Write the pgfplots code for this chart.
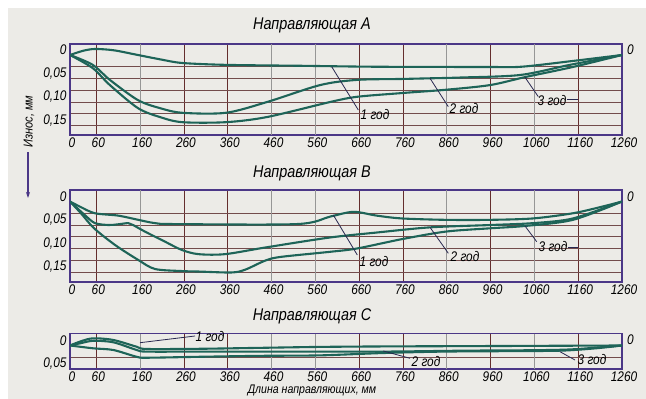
\documentclass[border=0pt]{standalone}
\usepackage{fontspec}
\usepackage{pgfplots}
\pgfplotsset{compat=1.18}
\usetikzlibrary{arrows.meta}
\newfontfamily\cad{Liberation Sans}[FakeStretch=0.85]
\definecolor{bg}{RGB}{236,235,231}
\definecolor{curve}{RGB}{30,100,88}
\definecolor{frame}{RGB}{75,55,135}
\definecolor{gdark}{RGB}{100,45,45}
\definecolor{ggrey}{RGB}{150,150,150}
\definecolor{lead}{RGB}{40,40,80}

\pgfplotsset{
  cv/.style={curve, line width=2.1bp, smooth, mark=none},
  panel/.style={
    scale only axis, width=552bp,
    xmin=0, xmax=1260,
    y dir=reverse,
    scaled y ticks=false, scaled x ticks=false,
    axis line style={frame, line width=1.1bp},
    xtick={0,60,260,360,660,760,960,1160,1260},
    xticklabels={0,60,260,360,660,760,960,1160,1260},
    extra x ticks={160,460,560,860,1060},
    extra x tick labels={160,460,560,860,1060},
    extra x tick style={xmajorgrids=true, major grid style={ggrey, line width=0.6bp}},
    xmajorgrids=true,
    major grid style={gdark, line width=0.7bp},
    minor grid style={gdark!70!ggrey, line width=0.7bp},
    yminorgrids=true, ymajorgrids=false,
    major tick length=0pt, minor tick length=0pt,
    ticklabel style={font=\cad\itshape\fontsize{14}{14}\selectfont},
    xticklabel style={yshift=1bp, xshift=2bp},
    yticklabel style={yshift=5bp},
  }
}

\begin{document}
\begin{tikzpicture}
\path[use as bounding box] (0,0) rectangle (646bp,-399bp);
\fill[white] (0,0) rectangle (646bp,-399bp);
\fill[bg] (8bp,-8bp) rectangle (646bp,-399bp);

% ---------------- Panel A ----------------
\begin{axis}[panel, at={(70bp,-44bp)}, anchor=north west, height=91bp,
  ymin=-0.0234, ymax=0.1703,
  ytick={0,0.05,0.10,0.15}, yticklabels={0,{0,05},{0,10},{0,15}},
  minor ytick={0.025,0.05,0.075,0.10,0.125,0.15}]
\addplot[cv] coordinates {(0,0) (30,-0.009) (57,-0.0128) (100,-0.010) (155,0) (210,0.010) (256,0.017) (356,0.021) (530,0.023) (700,0.025) (950,0.0255) (1030,0.025) (1145,0.013) (1260,0)};
\addplot[cv] coordinates {(0,0) (52,0.021) (91,0.053) (155,0.096) (205,0.113) (256,0.123) (356,0.123) (450,0.100) (571,0.064) (655,0.053) (758,0.051) (822,0.0496) (890,0.048) (1027,0.0426) (1141,0.021) (1260,0)};
\addplot[cv] coordinates {(0,0) (52,0.028) (91,0.064) (155,0.113) (205,0.132) (256,0.143) (356,0.143) (450,0.132) (594,0.100) (655,0.089) (758,0.081) (858,0.074) (959,0.064) (1039,0.047) (1148,0.0255) (1260,0)};
\end{axis}

% ---------------- Panel B ----------------
\begin{axis}[panel, at={(70bp,-190bp)}, anchor=north west, height=92bp,
  ymin=-0.0245, ymax=0.1713,
  ytick={0,0.05,0.10,0.15}, yticklabels={0,{0,05},{0,10},{0,15}},
  minor ytick={0.025,0.05,0.075,0.10,0.125,0.15}]
\addplot[cv] coordinates {(0,0) (25,0.012) (57,0.025) (110,0.030) (156,0.039) (194,0.046) (240,0.048) (518,0.048) (594,0.032) (647,0.022) (700,0.030) (757,0.036) (858,0.039) (959,0.039) (1057,0.036) (1148,0.025) (1210,0.012) (1260,0)};
\addplot[cv] coordinates {(0,0) (34,0.029) (57,0.046) (88,0.050) (110,0.0485) (133,0.046) (144,0.050) (171,0.064) (217,0.0855) (255,0.103) (293,0.112) (354,0.112) (445,0.098) (590,0.077) (700,0.066) (822,0.055) (960,0.050) (1057,0.046) (1148,0.036) (1260,0)};
\addplot[cv] coordinates {(0,0) (25,0.025) (55,0.057) (103,0.0926) (156,0.1245) (194,0.1436) (255,0.148) (293,0.149) (369,0.151) (400,0.145) (445,0.126) (480,0.118) (594,0.107) (655,0.100) (758,0.080) (858,0.064) (959,0.057) (1039,0.052) (1148,0.039) (1260,0)};
\end{axis}

% ---------------- Panel C ----------------
\begin{axis}[panel, at={(70bp,-333.5bp)}, anchor=north west, height=35.5bp,
  ymin=-0.0255, ymax=0.0500,
  ytick={0,0.05}, yticklabels={0,{0,05}},
  minor ytick={0.025}]
\addplot[cv] coordinates {(0,0) (25,-0.009) (53,-0.0153) (99,-0.0117) (152,0.0026) (175,0.0074) (297,0.007) (434,0.005) (571,0.003) (715,0.002) (1000,0.001) (1260,0)};
\addplot[cv] coordinates {(0,0) (25,-0.005) (53,-0.010) (99,-0.0068) (152,0.0095) (175,0.013) (297,0.013) (500,0.013) (715,0.013) (900,0.011) (1060,0.010) (1150,0.008) (1260,0)};
\addplot[cv] coordinates {(0,0) (53,0.006) (99,0.0096) (152,0.024) (175,0.026) (297,0.024) (434,0.022) (571,0.021) (715,0.016) (850,0.013) (1000,0.012) (1120,0.011) (1200,0.006) (1260,0)};
\end{axis}

% ---------------- Texts ----------------
\tikzset{cadt/.style={font=\cad\itshape\fontsize{14}{14}\selectfont, inner sep=0pt},
         ttl/.style={font=\cad\itshape\fontsize{17}{17}\selectfont, inner sep=0pt},
         ld/.style={lead, line width=0.8bp}}
\node[ttl] at (312bp,-25bp) {Направляющая A};
\node[ttl] at (312bp,-173bp) {Направляющая B};
\node[ttl] at (312bp,-316bp) {Направляющая C};

\node[cadt, anchor=west] at (627bp,-50bp) {0};
\node[cadt, anchor=west] at (627bp,-197bp) {0};
\node[cadt, anchor=west] at (627bp,-340bp) {0};

% leaders A
\draw[ld] (331.7bp,-66.7bp) -- (358.3bp,-110bp);
\node[cadt] at (375bp,-115bp) {1 год};
\draw[ld] (430bp,-78.3bp) -- (448.3bp,-106.7bp);
\node[cadt] at (464bp,-109bp) {2 год};
\draw[ld] (525bp,-77.3bp) -- (538.3bp,-96.7bp);
\node[cadt] at (552bp,-101bp) {3 год};
\draw[ld] (567bp,-99.5bp) -- (578bp,-99.5bp);

% leaders B
\draw[ld] (333.3bp,-215bp) -- (357.3bp,-255bp);
\node[cadt] at (374bp,-262bp) {1 год};
\draw[ld] (430bp,-227.3bp) -- (448.3bp,-253.3bp);
\node[cadt] at (465bp,-257bp) {2 год};
\draw[ld] (525bp,-226bp) -- (536.7bp,-241.7bp);
\node[cadt] at (553bp,-247bp) {3 год};
\draw[ld] (568bp,-247.5bp) -- (578bp,-247.5bp);

% leaders C
\draw[ld] (140bp,-342.7bp) -- (195bp,-336bp);
\node[cadt] at (210bp,-337bp) {1 год};
\draw[ld] (383.3bp,-351bp) -- (410bp,-358.3bp);
\node[cadt] at (426bp,-362bp) {2 год};
\draw[ld] (560bp,-351.7bp) -- (575bp,-360bp);
\node[cadt] at (592bp,-360bp) {3 год};

% axis names
\node[font=\cad\itshape\fontsize{12.5}{12.5}\selectfont, inner sep=0pt] at (312bp,-391bp) {Длина направляющих, мм};
\node[font=\cad\itshape\fontsize{13}{13}\selectfont, inner sep=0pt, rotate=90] at (29bp,-121.5bp) {Износ, мм};
\draw[frame, line width=1.5bp, -{Stealth[length=6bp,width=4bp]}] (28bp,-152bp) -- (28bp,-198bp);
\end{tikzpicture}
\end{document}
